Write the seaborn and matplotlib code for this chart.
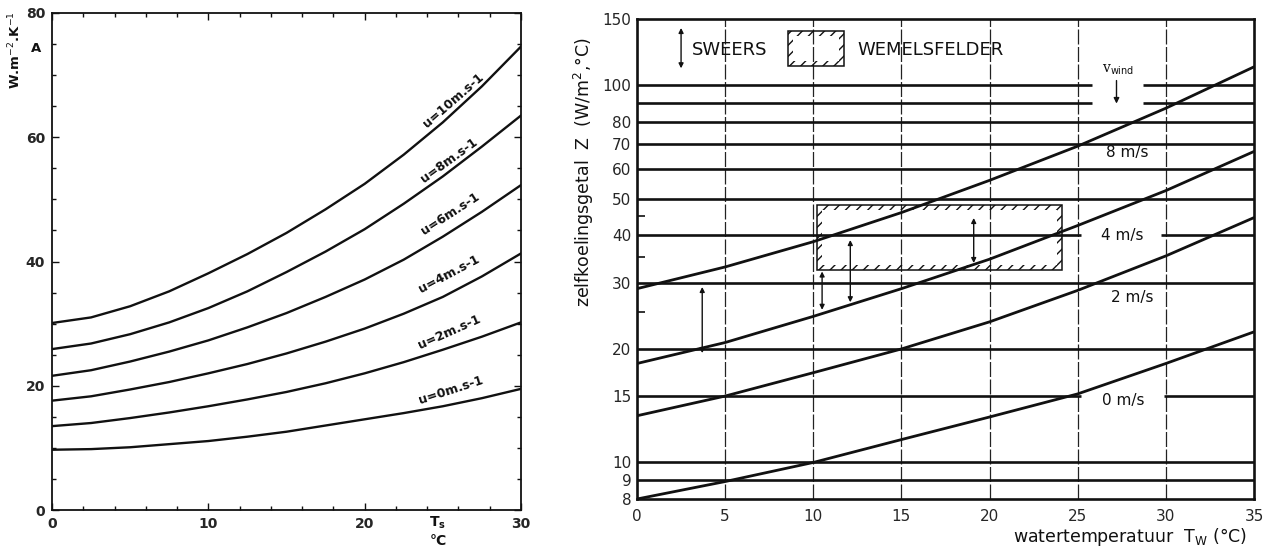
import numpy as np
import pandas as pd
import matplotlib
matplotlib.use("Agg")
import matplotlib.pyplot as plt
from matplotlib.path import Path
from matplotlib.patches import PathPatch, Rectangle
from matplotlib.ticker import MultipleLocator, FixedLocator, NullLocator
import seaborn as sns

# ---------------- left panel: heat exchange coefficient A vs surface temperature
ts = [0, 2.5, 5, 7.5, 10, 12.5, 15, 17.5, 20, 22.5, 25, 27.5, 30]
a_u0 = [9.7, 9.8, 10.1, 10.6, 11.1, 11.8, 12.6, 13.6, 14.6, 15.6, 16.7, 18.0, 19.5]
a_u2 = [13.5, 14.0, 14.8, 15.7, 16.7, 17.8, 19.0, 20.4, 22.0, 23.8, 25.8, 27.9, 30.2]
a_u4 = [17.6, 18.3, 19.4, 20.6, 22.0, 23.5, 25.2, 27.1, 29.2, 31.6, 34.3, 37.6, 41.3]
a_u6 = [21.6, 22.5, 23.9, 25.5, 27.3, 29.4, 31.7, 34.3, 37.1, 40.3, 44.0, 48.0, 52.3]
a_u8 = [25.9, 26.8, 28.3, 30.2, 32.5, 35.2, 38.3, 41.6, 45.2, 49.3, 53.7, 58.5, 63.5]
a_u10 = [30.1, 31.0, 32.8, 35.2, 38.1, 41.2, 44.6, 48.4, 52.5, 57.2, 62.4, 68.2, 74.6]
left_labels = ["u=0m.s-1", "u=2m.s-1", "u=4m.s-1", "u=6m.s-1", "u=8m.s-1", "u=10m.s-1"]

# ---------------- right panel: self-cooling number Z vs water temperature
tw = [0, 5, 10, 15, 20, 25, 30, 35]
z_0 = [8.0, 8.9, 10.0, 11.5, 13.2, 15.2, 18.3, 22.2]
z_2 = [13.3, 15.0, 17.3, 20.0, 23.6, 28.6, 35.3, 44.6]
z_4 = [18.3, 20.8, 24.4, 28.9, 34.6, 42.5, 52.6, 66.8]
z_8 = [28.9, 33.0, 38.5, 46.0, 56.0, 69.0, 87.0, 112.0]
right_labels = ["0 m/s", "2 m/s", "4 m/s", "8 m/s"]

z_ticks = [8, 9, 10, 15, 20, 30, 40, 50, 60, 70, 80, 100, 150]
z_lines = [9, 10, 15, 20, 30, 40, 50, 60, 70, 80, 90, 100]
tw_grid = [5, 10, 15, 20, 25, 30]

# Sweers measurement ranges (x, low, high)
sweers_x = [3.7, 10.5, 12.1, 19.1]
sweers_lo = [19.5, 25.4, 26.6, 33.8]
sweers_hi = [29.2, 32.1, 38.9, 44.5]
# Wemelsfelder range box (x0, x1, z0, z1)
wemel_box = [10.2, 24.1, 32.4, 48.1]

sns.set_style("ticks")
plt.rcParams["font.family"] = ["DejaVu Sans"]
plt.rcParams["hatch.linewidth"] = 1.0
ink = "#111111"
plt.rcParams["hatch.color"] = ink

fig = plt.figure(figsize=(12.7, 5.5), dpi=100)
axL = fig.add_axes([52 / 1270, 1 - 510 / 550, 469 / 1270, 497 / 550])
axR = fig.add_axes([637 / 1270, 1 - 499 / 550, 617 / 1270, 480 / 550])

# ---- left panel
dfL = pd.DataFrame({
    "Ts": ts * 6,
    "A": a_u0 + a_u2 + a_u4 + a_u6 + a_u8 + a_u10,
    "u": sum([[lab] * len(ts) for lab in left_labels], []),
})
sns.lineplot(data=dfL, x="Ts", y="A", hue="u", palette=[ink] * 6, legend=False,
             estimator=None, lw=1.7, ax=axL)
axL.set_xlim(0, 30)
axL.set_ylim(0, 80)
axL.xaxis.set_major_locator(FixedLocator([0, 10, 20, 30]))
axL.xaxis.set_minor_locator(MultipleLocator(2))
axL.yaxis.set_major_locator(FixedLocator([0, 20, 40, 60, 80]))
axL.yaxis.set_minor_locator(MultipleLocator(5))
axL.tick_params(which="both", direction="in", top=True, right=True, color=ink,
                labelsize=10, pad=5)
axL.tick_params(which="major", length=5, width=1.0)
axL.tick_params(which="minor", length=3, width=1.0)
for lab in axL.get_xticklabels() + axL.get_yticklabels():
    lab.set_fontweight("bold")
for sp in axL.spines.values():
    sp.set_linewidth(1.3)
    sp.set_color(ink)
axL.set_xlabel("")
axL.set_ylabel("")

label_pos = [(25.5, 19.3), (25.4, 28.6), (25.4, 37.9), (25.5, 47.7), (25.4, 56.2), (25.7, 66.0)]
label_rot = [18, 24, 28, 33, 36, 41]
for lab, (x, y), r in zip(left_labels, label_pos, label_rot):
    axL.text(x, y, lab, rotation=r, ha="center", va="center", fontsize=9,
             fontweight="bold", color=ink, rotation_mode="anchor")

fig.text(15 / 1270, 1 - 50 / 550, "W.m$^{-2}$.K$^{-1}$", rotation=90, ha="center",
         va="center", fontsize=9.5, fontweight="bold", color=ink)
fig.text(36 / 1270, 1 - 48 / 550, "A", ha="center", va="center", fontsize=9.5,
         fontweight="bold", color=ink)
fig.text(437 / 1270, 1 - 523 / 550, "T$_\\mathbf{s}$", ha="center", va="center",
         fontsize=10, fontweight="bold", color=ink)
fig.text(438 / 1270, 1 - 541 / 550, "°C", ha="center", va="center", fontsize=10,
         fontweight="bold", color=ink)

# ---- right panel
dfR = pd.DataFrame({
    "Tw": tw * 4,
    "Z": z_0 + z_2 + z_4 + z_8,
    "v": sum([[lab] * len(tw) for lab in right_labels], []),
})
axR.set_yscale("log")
sns.lineplot(data=dfR, x="Tw", y="Z", hue="v", palette=[ink] * 4, legend=False,
             estimator=None, lw=2.0, ax=axR, zorder=4)
axR.set_xlim(0, 35)
axR.set_ylim(8, 150)

# horizontal reference lines, with gaps where labels sit
gaps = {90: (25.8, 28.7), 100: (25.8, 28.7), 40: (25.2, 29.7), 15: (25.2, 29.9)}
for z in z_lines:
    if z in gaps:
        g0, g1 = gaps[z]
        axR.hlines(z, 0, g0, color=ink, lw=1.9, zorder=3)
        axR.hlines(z, g1, 35, color=ink, lw=1.9, zorder=3)
    else:
        axR.hlines(z, 0, 35, color=ink, lw=1.9, zorder=3)
for x in tw_grid:
    axR.axvline(x, color="#222222", lw=0.9, ls=(0, (12, 2)), zorder=2)

axR.xaxis.set_major_locator(FixedLocator([0, 5, 10, 15, 20, 25, 30, 35]))
axR.yaxis.set_major_locator(FixedLocator(z_ticks))
axR.yaxis.set_minor_locator(FixedLocator([25, 35, 45]))
axR.xaxis.set_minor_locator(NullLocator())
axR.set_yticklabels([str(v) for v in z_ticks])
axR.tick_params(which="both", direction="in", color=ink, labelsize=11)
axR.tick_params(which="major", axis="y", length=0, pad=4)
axR.tick_params(which="major", axis="x", length=0, pad=7)
axR.tick_params(which="minor", length=6, width=1.2)
for sp in axR.spines.values():
    sp.set_linewidth(1.9)
    sp.set_color(ink)
axR.set_xlabel("")
axR.set_ylabel("")


def hatched_frame(ax, x0, x1, z0, z1, dx, fz):
    # hatched border band plus a thin outer outline
    outer = [(x0, z0), (x1, z0), (x1, z1), (x0, z1), (x0, z0)]
    inner = [(x0 + dx, z0 * fz), (x0 + dx, z1 / fz), (x1 - dx, z1 / fz),
             (x1 - dx, z0 * fz), (x0 + dx, z0 * fz)]
    codes = [Path.MOVETO] + [Path.LINETO] * 3 + [Path.CLOSEPOLY]
    path = Path(outer + inner, codes + codes)
    ax.add_patch(PathPatch(path, facecolor="none", edgecolor=ink, lw=0,
                           hatch="///", zorder=5))
    ax.add_patch(Rectangle((x0, z0), x1 - x0, z1 - z0, facecolor="none",
                           edgecolor=ink, lw=1.1, zorder=5))


hatched_frame(axR, *wemel_box, 0.3, 1.03)
hatched_frame(axR, 8.57, 11.74, 112.5, 139.0, 0.3, 1.03)

arrow_kw = dict(arrowstyle="<|-|>", lw=1.0, color=ink, mutation_scale=7,
                shrinkA=0, shrinkB=0)
for x, lo, hi in zip(sweers_x, sweers_lo, sweers_hi):
    axR.annotate("", xy=(x, hi), xytext=(x, lo), arrowprops=arrow_kw, zorder=6)
axR.annotate("", xy=(2.5, 142), xytext=(2.5, 111), arrowprops=arrow_kw)
axR.text(3.1, 124, "SWEERS", ha="left", va="center", fontsize=13, color=ink)
axR.text(12.5, 124, "WEMELSFELDER", ha="left", va="center", fontsize=13, color=ink)

axR.text(27.3, 110, "v$_\\mathrm{wind}$", ha="center", va="center", fontsize=10,
         family="DejaVu Serif", color=ink)
axR.annotate("", xy=(27.2, 89.5), xytext=(27.2, 103),
             arrowprops=dict(arrowstyle="-|>", lw=1.0, color=ink, mutation_scale=8,
                             shrinkA=0, shrinkB=0))

axR.text(27.8, 66.5, "8 m/s", ha="center", va="center", fontsize=11, color=ink)
axR.text(27.5, 40, "4 m/s", ha="center", va="center", fontsize=11, color=ink)
axR.text(28.1, 27.3, "2 m/s", ha="center", va="center", fontsize=11, color=ink)
axR.text(27.6, 14.6, "0 m/s", ha="center", va="center", fontsize=11, color=ink)

fig.text(584 / 1270, 1 - 172 / 550, "zelfkoelingsgetal  Z  (W/m$^2$,°C)",
         rotation=90, ha="center", va="center", fontsize=12.5, color=ink)
fig.text(1247 / 1270, 1 - 537 / 550, "watertemperatuur  T$_\\mathrm{W}$ (°C)",
         ha="right", va="center", fontsize=12.5, color=ink)

fig.savefig("out.png", dpi=100, facecolor="white")
